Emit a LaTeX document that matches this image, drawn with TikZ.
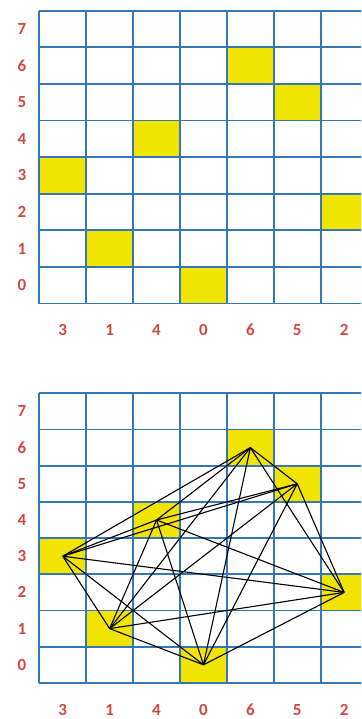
\documentclass[tikz,border=0pt]{standalone}
\usepackage{fontspec}
\setmainfont{Carlito}
\definecolor{gridblue}{RGB}{52,120,184}
\definecolor{cellyellow}{RGB}{240,228,0}
\definecolor{labelred}{RGB}{208,72,64}

\begin{document}
\begin{tikzpicture}[x=1pt,y=-1pt,
  gridline/.style={gridblue,line width=1.8pt},
  queencell/.style={fill=cellyellow},
  axislabel/.style={labelred,font=\bfseries\fontsize{17}{17}\selectfont},
  edge/.style={black,line width=1.1pt}]
\useasboundingbox (0,0) rectangle (361,719);
\clip (0,0) rectangle (361,719);

% top board
\begin{scope}[shift={(39.3,10.7)},x=46.9pt,y=-36.6pt]
\foreach \c/\r in {0/3,1/1,2/4,3/0,4/6,5/5,6/2}
  \fill[queencell] (\c,7-\r) rectangle ++(1,1);
\foreach \i in {0,...,8}
  \draw[gridline] (0,\i) -- (8,\i);
\foreach \i in {0,...,8}
  \draw[gridline] (\i,0) -- (\i,8);
\foreach \r in {0,...,7}
  \node[axislabel] (rowA\r) at (-0.37,7.5-\r) {\r};
\foreach \c/\r in {0/3,1/1,2/4,3/0,4/6,5/5,6/2}
  \node[axislabel] (colA\c) at (\c+0.5,8.72) {\r};
\end{scope}

% bottom board with the graph
\begin{scope}[shift={(39.3,393.3)},x=46.9pt,y=-36.2pt]
\foreach \c/\r in {0/3,1/1,2/4,3/0,4/6,5/5,6/2}
  \fill[queencell] (\c,7-\r) rectangle ++(1,1);
\foreach \i in {0,...,8}
  \draw[gridline] (0,\i) -- (8,\i);
\foreach \i in {0,...,8}
  \draw[gridline] (\i,0) -- (\i,8);
\foreach \r in {0,...,7}
  \node[axislabel] (rowB\r) at (-0.37,7.5-\r) {\r};
\foreach \c/\r in {0/3,1/1,2/4,3/0,4/6,5/5,6/2}{
  \node[axislabel] (colB\c) at (\c+0.5,8.75) {\r};
  \coordinate (q\c) at (\c+0.5,7.5-\r);
}
\foreach \a in {0,...,5}{
  \pgfmathtruncatemacro\nxt{\a+1}
  \foreach \b in {\nxt,...,6}
    \draw[edge] (q\a) -- (q\b);
}
\end{scope}
\end{tikzpicture}
\end{document}
